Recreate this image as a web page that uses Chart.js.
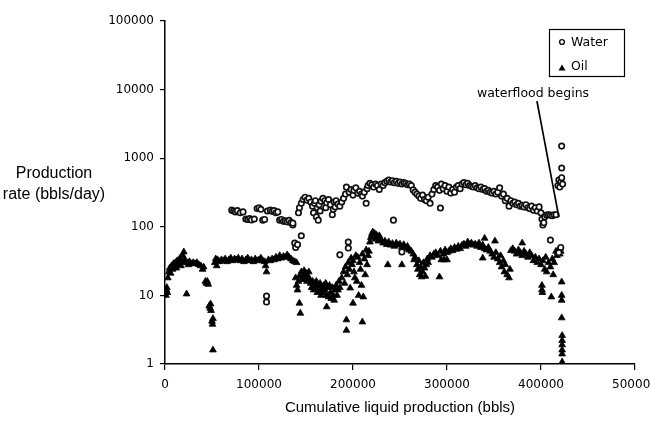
<!DOCTYPE html>
<html><head><meta charset="utf-8">
<script src="https://cdn.jsdelivr.net/npm/chart.js@4"></script>
<style>html,body{margin:0;padding:0;background:#fff}canvas{display:block}</style>
</head><body>
<canvas id="c" width="650" height="421"></canvas>
<script>
const xTicks = [0, 100000, 200000, 300000, 400000, 500000];
const yTicks = [1, 10, 100, 1000, 10000, 100000];
const seriesLabels = ['Water', 'Oil'];
const yTitleLines = ['Production', 'rate (bbls/day)'];
const xTitle = 'Cumulative liquid production (bbls)';
const annotText = 'waterflood begins';
const annotLine = [[395700, 6800], [419000, 138]];
const annotTextAt = [391500, 8600];

const waterData = [
[71000,175],[73000,170],[75000,165],[77000,172],[80000,160],[83000,165],[86000,130],[88000,128],[90000,132],[92000,126],[95000,130],
[98000,185],[100000,190],[102000,180],[104000,125],[106000,128],[108000,9.8],[108000,8],[109000,170],[112000,175],[114000,168],
[116000,172],[118000,160],[120000,165],[122000,125],[124000,128],[126000,120],[128000,122],[130000,118],[132000,124],[134000,115],
[136000,106],[136000,113],[138000,58],[139000,50],[141000,55],[142000,160],[143000,190],[145000,74],[145000,220],[147000,250],
[149000,270],[151000,245],[153000,260],[155000,230],[157000,200],[158000,160],[159000,220],[160000,240],[161000,140],[162000,190],
[163000,125],[164000,210],[165000,170],[166000,235],[168000,260],[170000,240],[171000,190],[172000,225],[174000,250],[176000,210],
[178000,150],[179000,180],[180000,230],[181000,195],[182000,240],[184000,215],[186000,39],[186000,200],[188000,230],[190000,260],
[192000,300],[193000,380],[195000,60],[195000,49],[196000,320],[198000,350],[200000,290],[201000,340],[203000,370],[205000,310],
[207000,330],[209000,300],[210000,280],[212000,320],[214000,220],[215000,360],[216000,400],[218000,430],[220000,410],[222000,380],
[224000,420],[226000,400],[228000,350],[230000,420],[232000,400],[234000,440],[236000,460],[238000,480],[240000,450],[242000,470],
[243000,125],[244000,440],[246000,460],[248000,430],[250000,450],[252000,43],[252000,420],[254000,440],[256000,430],[258000,410],
[260000,420],[262000,400],[264000,345],[266000,320],[268000,300],[270000,280],[272000,260],[274000,290],[276000,250],[278000,240],
[280000,270],[282000,220],[284000,300],[286000,350],[288000,400],[290000,380],[292000,340],[293000,188],[294000,420],[296000,360],
[298000,400],[300000,330],[302000,380],[304000,310],[306000,350],[308000,320],[310000,380],[312000,400],[314000,360],[316000,420],
[318000,440],[320000,410],[322000,430],[324000,400],[326000,390],[328000,380],[330000,400],[332000,370],[334000,360],[336000,380],
[338000,350],[340000,360],[342000,330],[344000,340],[346000,320],[348000,310],[350000,330],[352000,300],[354000,320],[356000,370],
[358000,280],[360000,300],[362000,240],[364000,260],[366000,200],[368000,240],[370000,220],[372000,230],[374000,210],[376000,220],
[378000,200],[380000,205],[382000,195],[384000,210],[386000,190],[388000,185],[390000,200],[392000,175],[394000,190],[396000,170],
[398000,195],[400000,160],[401000,130],[402000,106],[403000,115],[404000,140],[406000,148],[408000,150],[410000,64],[410000,148],
[412000,145],[414000,150],[416000,150],[418000,400],[419000,480],[420000,380],[421000,450],[422000,720],[422000,520],[422000,1500],
[423000,420],[420000,45],[421000,50],[419000,42]
];

const oilData = [
[1000,10],[1500,12],[2000,13],[2500,11],[3000,18],[4000,22],[5000,25],[6000,21],[7000,27],[8000,24],[9000,29],[10000,26],[11000,30],
[12000,25],[13000,32],[14000,28],[15000,30],[16000,35],[17000,27],[18000,31],[19000,38],[20000,43],[21000,33],[22000,30],[23000,10.5],
[24000,30],[25000,28],[26000,31],[28000,29],[30000,30],[32000,29],[34000,30],[36000,28],[38000,27],[40000,24],[41000,26],[43000,16],
[44000,15],[45000,16],[46000,14.5],[47000,7],[48000,6.5],[48500,7.5],[49000,6],[50000,4.2],[50500,3.8],[51000,4.6],[51000,1.6],
[53000,30],[54000,34],[55000,27],[56000,33],[58000,31],[60000,33],[62000,32],[64000,34],[66000,31],[68000,33],[70000,35],[72000,32],
[74000,34],[76000,33],[78000,35],[80000,32],[82000,34],[84000,31],[86000,33],[88000,35],[90000,32],[92000,33],[94000,31],[96000,34],
[98000,32],[100000,33],[102000,35],[104000,32],[106000,31],[107000,27],[108000,22],[110000,33],[112000,32],[114000,34],[116000,33],
[118000,36],[120000,34],[122000,38],[124000,35],[126000,37],[128000,36],[130000,39],[132000,36],[134000,34],[136000,32],[138000,31],
[140000,30],
[139000,18],[140000,14],[141000,12],[142000,16],[143000,19],[143000,7.7],[144000,5.5],[145000,22],[146000,17],[147000,20],[148000,23],
[149000,18],[150000,21],[151000,16],[152000,19],[153000,22],[154000,17],[155000,15],[156000,13],[157000,16],[158000,12],[159000,15],
[160000,13],[161000,16],[162000,11],[163000,14],[164000,12],[165000,15],[166000,10],[167000,13],[168000,11],[169000,14],[170000,12],
[171000,15],[172000,6.8],[172000,10],[173000,13],[174000,9.5],[175000,14],[176000,11],[177000,9],[178000,13],[179000,10],[180000,8.5],
[181000,12],[182000,14],[183000,10],[184000,12],[185000,16],[186000,13],
[188000,18],[190000,22],[191000,15],[192000,26],[193000,4.4],[193000,3.1],[194000,20],[195000,30],[196000,24],[197000,12.8],[198000,35],
[199000,28],[200000,7.7],[200000,32],[201000,22],[202000,18],[203000,38],[204000,16],[205000,36],[206000,10],[207000,30],[208000,24],
[209000,14],[210000,4.1],[210000,40],[211000,9.5],[212000,34],[213000,20],[214000,46],[215000,28],[216000,38],[217000,44],
[218000,60],[219000,70],[220000,78],[221000,84],[222000,72],[223000,80],[224000,66],[225000,76],[226000,70],[227000,62],[228000,74],
[229000,68],[230000,64],[232000,58],[234000,62],[236000,55],[237000,28],[238000,60],[240000,54],[242000,57],[244000,52],[246000,58],
[248000,54],[250000,56],[252000,28],[252000,50],[254000,55],[256000,48],[258000,52],[260000,46],[262000,44],[264000,40],[265000,33],
[266000,36],[268000,28],[269000,24],[270000,32],[271000,20],[272000,26],[273000,18.6],[274000,22],[275000,30],[276000,25],[277000,19],
[278000,28],[279000,34],[280000,30],[282000,38],[284000,36],[286000,40],[288000,42],[290000,38],[292000,18.6],[293000,44],[294000,33],
[296000,40],[297000,33],[298000,46],[300000,33],[300000,42],[302000,44],[304000,48],[306000,45],[308000,50],[310000,47],[312000,52],
[314000,48],[316000,54],[318000,56],[320000,52],[322000,60],[324000,55],[326000,58],[328000,54],[330000,56],[332000,52],[334000,58],
[336000,50],[338000,35],[338000,54],[340000,68],[340000,48],[342000,46],[344000,50],[346000,44],[348000,40],[350000,36],[351000,62],
[352000,42],[354000,34],[356000,30],[357000,38],[358000,26],[360000,32],[361000,22],[362000,28],[364000,20],[366000,18],[367000,24],
[368000,45],[370000,48],[372000,44],[374000,40],[376000,46],[378000,42],[380000,58],[380000,38],[382000,44],[384000,40],[386000,36],
[388000,42],[390000,38],[392000,32],[394000,36],[396000,30],[398000,34],[400000,28],[401000,14],[401000,12],[401500,11],[402000,32],
[404000,24],[405000,36],[406000,22],[408000,30],[410000,26],[411000,9.5],[412000,34],[413000,20],[414000,30],[416000,44],[417000,38],
[418000,42],[419000,46],[420000,40],[421000,44],[422000,15.7],[422000,10],[422000,8.5],[422000,4.7],[422500,2.6],[422500,2.2],
[422500,1.9],[422500,1.6],[422500,1.4],[422500,1.07]
];

const toPts = arr => arr.map(p => ({x: p[0], y: p[1]}));
const tickFont = {family: 'DejaVu Sans', size: 12};
const titleFont = {family: 'Liberation Sans', size: 15};

const overlayPlugin = {
  id: 'overlay',
  afterDatasetsDraw(chart) {
    const ctx = chart.ctx, xs = chart.scales.x, ys = chart.scales.y;
    ctx.save();
    ctx.strokeStyle = '#000'; ctx.lineWidth = 1.7;
    ctx.beginPath();
    ctx.moveTo(xs.getPixelForValue(annotLine[0][0]), ys.getPixelForValue(annotLine[0][1]));
    ctx.lineTo(xs.getPixelForValue(annotLine[1][0]), ys.getPixelForValue(annotLine[1][1]));
    ctx.stroke();
    ctx.fillStyle = '#000';
    ctx.font = '12.5px "DejaVu Sans"';
    ctx.textAlign = 'center'; ctx.textBaseline = 'middle';
    ctx.fillText(annotText, xs.getPixelForValue(annotTextAt[0]), ys.getPixelForValue(annotTextAt[1]));
    ctx.font = '16px "Liberation Sans"';
    ctx.fillText(yTitleLines[0], 54, 174);
    ctx.fillText(yTitleLines[1], 54, 195);
    ctx.lineWidth = 1.2;
    ctx.strokeRect(549.5, 29.5, 75, 47);
    const ds = chart.data.datasets;
    ctx.beginPath(); ctx.arc(562, 42, 2.4, 0, Math.PI * 2);
    ctx.fillStyle = '#fff'; ctx.fill(); ctx.strokeStyle = '#111'; ctx.lineWidth = 1.4; ctx.stroke();
    ctx.beginPath(); ctx.moveTo(562, 64.5); ctx.lineTo(565.5, 70.5); ctx.lineTo(558.5, 70.5); ctx.closePath();
    ctx.fillStyle = '#000'; ctx.fill();
    ctx.font = '12.5px "DejaVu Sans"';
    ctx.textAlign = 'left';
    ctx.fillText(ds[0].label, 571, 43);
    ctx.fillText(ds[1].label, 571, 67);
    ctx.restore();
  }
};

new Chart(document.getElementById('c'), {
  type: 'scatter',
  data: {
    datasets: [
      {label: seriesLabels[0], data: toPts(waterData), pointStyle: 'circle', pointRadius: 2.7,
       borderColor: '#111', borderWidth: 1.7, backgroundColor: '#fff'},
      {label: seriesLabels[1], data: toPts(oilData), pointStyle: 'triangle', pointRadius: 3.9,
       borderColor: '#000', borderWidth: 0.8, backgroundColor: '#000'}
    ]
  },
  options: {
    responsive: false, animation: false, devicePixelRatio: 1,
    layout: {padding: {left: 0, top: 21, right: 15, bottom: 0}},
    plugins: {legend: {display: false}, tooltip: {enabled: false}},
    scales: {
      x: {
        type: 'linear', min: 0, max: 500000,
        afterBuildTicks: s => { s.ticks = xTicks.map(v => ({value: v})); },
        afterFit: s => { s.height = 57; s.paddingLeft = 0; s.paddingRight = 0; },
        ticks: {callback: v => String(v), font: tickFont, color: '#000', padding: 8, maxRotation: 0, autoSkip: false},
        grid: {drawOnChartArea: false, drawTicks: true, tickLength: 6, color: '#000', lineWidth: 1.2},
        border: {display: true, color: '#000', width: 1.5},
        title: {display: true, text: xTitle, font: titleFont, color: '#000', padding: {top: 0, bottom: 4}}
      },
      y: {
        type: 'logarithmic', min: 1, max: 100000,
        afterBuildTicks: s => { s.ticks = yTicks.map(v => ({value: v})); },
        afterFit: s => { s.width = 165; s.paddingTop = 0; s.paddingBottom = 0; },
        ticks: {callback: v => String(v), font: tickFont, color: '#000', padding: 6, autoSkip: false},
        grid: {drawOnChartArea: false, drawTicks: true, tickLength: 5, color: '#000', lineWidth: 1.2},
        border: {display: true, color: '#000', width: 1.5}
      }
    }
  },
  plugins: [overlayPlugin]
});
</script>
</body></html>
